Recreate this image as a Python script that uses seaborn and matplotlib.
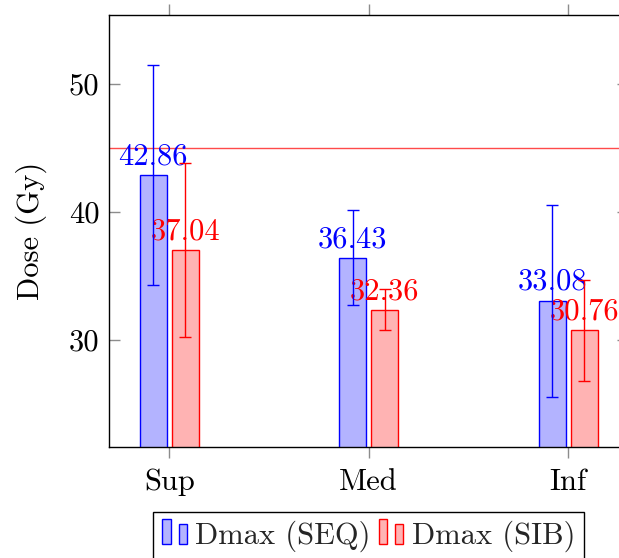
import matplotlib
matplotlib.use('Agg')
import matplotlib.pyplot as plt
import seaborn as sns
import pandas as pd
from matplotlib.patches import Rectangle
from matplotlib.legend_handler import HandlerBase

# ---- data ----
regions = ['Sup', 'Med', 'Inf']
series = ['Dmax (SEQ)', 'Dmax (SIB)']
seq_dmax = [42.86, 36.43, 33.08]
seq_err = [8.6, 3.7, 7.5]
sib_dmax = [37.04, 32.36, 30.76]
sib_err = [6.82, 1.6, 3.96]
threshold = 45
y_ticks = [30, 40, 50]
y_tick_labels = ['30', '40', '50']

sns.set_theme(style='white')
plt.rcParams['font.family'] = ['cmr10', 'DejaVu Serif']
plt.rcParams['mathtext.fontset'] = 'cm'
plt.rcParams['axes.unicode_minus'] = False

df = pd.DataFrame({
    'region': regions * 2,
    'dose': seq_dmax + sib_dmax,
    'series': [series[0]] * 3 + [series[1]] * 3,
})
errs = {series[0]: seq_err, series[1]: sib_err}
fills = {series[0]: '#b3b3ff', series[1]: '#ffb3b3'}
edges = {series[0]: '#0000ff', series[1]: '#ff0000'}
FS = 22

fig = plt.figure(figsize=(6.19, 5.58), dpi=100)
W, H = 619, 558
ax = fig.add_axes([109.3 / W, 1 - 446.5 / H, (628 - 109.3) / W, (446.5 - 15.3) / H])

ax.axhline(threshold, color='#ff4a4a', lw=1.0, zorder=1)

sns.barplot(data=df, x='region', y='dose', hue='series', order=regions,
            hue_order=series, palette=fills, saturation=1, width=0.32,
            gap=0.16, errorbar=None, ax=ax, linewidth=1.0, legend=False,
            zorder=2)

for cont, s in zip(ax.containers, series):
    bars = sorted(cont.patches, key=lambda b: b.get_x())
    for bar, e in zip(bars, errs[s]):
        bar.set_edgecolor(edges[s])
        cx = bar.get_x() + bar.get_width() / 2
        v = bar.get_height()
        ax.annotate(f'{v:.2f}', (cx, v), xytext=(0, 7.7), textcoords='offset points',
                    ha='center', va='baseline', color=edges[s], fontsize=FS,
                    zorder=4, annotation_clip=False)
        ax.errorbar(cx, v, yerr=e, fmt='none', ecolor=edges[s], elinewidth=1.0,
                    capsize=4, capthick=1.0, zorder=5)

ax.set_xlim(-0.3, 2.3)
ax.set_ylim(21.68, 55.37)
ax.set_yticks(y_ticks, labels=y_tick_labels)
ax.set_xlabel('')
ax.set_ylabel('Dose (Gy)', fontsize=FS, labelpad=16, color='black')

ax.tick_params(axis='x', which='major', direction='out', length=8, width=1,
               color='#8c8c8c', top=True, bottom=True, labelsize=FS, pad=8,
               labelcolor='black')
ax.tick_params(axis='y', which='major', direction='in', length=8, width=1,
               color='#8c8c8c', left=True, right=True, labelsize=FS, pad=7,
               labelcolor='black')
for sp in ax.spines.values():
    sp.set_visible(True)
    sp.set_color('black')
    sp.set_linewidth(1.0)


class PairHandler(HandlerBase):
    def create_artists(self, legend, orig_handle, xdescent, ydescent, width,
                       height, fontsize, trans):
        fc = orig_handle.get_facecolor()
        ec = orig_handle.get_edgecolor()
        r1 = Rectangle((-xdescent, -ydescent), 0.34 * width, 1.18 * height,
                       facecolor=fc, edgecolor=ec, lw=1.0, transform=trans)
        r2 = Rectangle((-xdescent + 0.66 * width, -ydescent), 0.34 * width,
                       0.93 * height, facecolor=fc, edgecolor=ec, lw=1.0,
                       transform=trans)
        return [r1, r2]


handles = [Rectangle((0, 0), 1, 1, facecolor=fills[s], edgecolor=edges[s]) for s in series]
leg = fig.legend(handles, series, handler_map={Rectangle: PairHandler()},
                 loc='upper center', bbox_to_anchor=(368.7 / W, 1 - 511.7 / H),
                 ncol=2, frameon=True, fancybox=False, edgecolor='black',
                 framealpha=1, fontsize=FS, handlelength=0.8, handletextpad=0.28,
                 columnspacing=0.25, borderpad=0.3, borderaxespad=0)
leg.get_frame().set_linewidth(1.0)

fig.savefig('out.png', dpi=100)
